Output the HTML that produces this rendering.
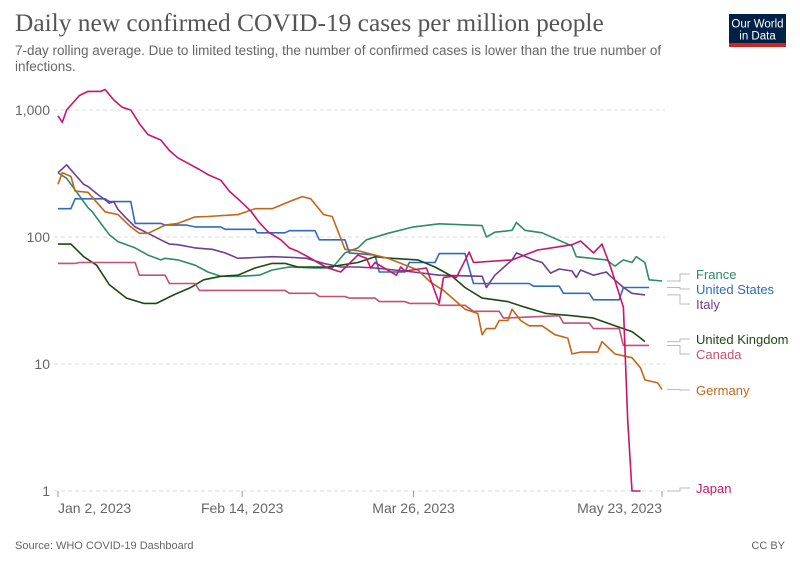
<!DOCTYPE html>
<html><head><meta charset="utf-8">
<style>
body{margin:0;background:#fff;width:800px;height:564px;overflow:hidden;font-family:"Liberation Sans",sans-serif}
svg{display:block}
</style></head><body>
<svg id="chart" width="800" height="564" xmlns="http://www.w3.org/2000/svg">
<text x="15" y="31" font-family="Liberation Serif,serif" font-size="25.4" fill="#555">Daily new confirmed COVID-19 cases per million people</text>
<text x="15" y="55" font-size="13.5" fill="#666">7-day rolling average. Due to limited testing, the number of confirmed cases is lower than the true number of</text>
<text x="15" y="71" font-size="13.5" fill="#666">infections.</text>
<g>
<rect x="729" y="14" width="57" height="33" fill="#002147"/>
<rect x="729" y="43" width="57" height="4" fill="#ce261e"/>
<text x="757.5" y="27.5" font-size="11.5" fill="#fff" text-anchor="middle">Our World</text>
<text x="757.5" y="39.5" font-size="11.5" fill="#fff" text-anchor="middle">in Data</text>
</g>
<g id="grid"></g><g id="series"></g><g id="labels"></g>
<text x="15" y="549" font-size="11" fill="#666">Source: WHO COVID-19 Dashboard</text>
<text x="785" y="549" font-size="11" fill="#666" text-anchor="end">CC BY</text>
</svg>
<script>
const yTicks=[1,10,100,1000];
const yTickLabels=["1","10","100","1,000"];
const xTickDays=[0,43,83,141];
const xTickLabels=["Jan 2, 2023","Feb 14, 2023","Mar 26, 2023","May 23, 2023"];
const countries=["France","United States","Italy","United Kingdom","Canada","Germany","Japan"];
const colors=["#2e8b66","#2f6bbf","#6d3e91","#1c4a12","#c45072","#c4661a","#c8156b"];
const labelY=[274,289,304,339,354,390,488];
const franceDays=[0,2,4,7,8,10,12,14,18,21,24,25,28,32,35,38,42,47,50,54,60,64,67,70,72,77,83,89,99,100,102,106,107,109,113,120,121,128,130,132,134,135,137,138,141];
const franceVals=[320,290,235,170,158,128,104,92,82,72,66,68,66,60,53,49,49,50,55,58,57,57,75,82,95,107,120,127,123,100,109,113,130,113,108,85,70,66,59,66,63,70,63,46,45];
const usDays=[0,3,4,11,12,17,18,24,25,30,32,38,39,46,46.5,53,54,60,61,67,68,74,75,81,82,88,89,95,97,110,111,117,118,124,125,131,132,138];
const usVals=[167,167,200,200,190,190,128,128,124,124,120,120,115,115,108,108,112,112,95,95,75,72,53,53,63,63,74,74,43,43,41,41,36,36,32,32,40,40];
const italyDays=[0,2,4,6,7,9,12,13,14,16,18,21,24,26,28,32,36,39,42,46,50,55,58,62,66,70,74,83,89,99,100,102,106,107,111,113,115,117,120,121,122,125,128,129,132,134,137];
const italyVals=[320,370,310,260,250,220,185,190,165,140,120,107,95,88,87,82,80,75,68,69,70,69,68,62,58,58,57,53,50,49,40,50,66,75,66,63,52,56,54,48,55,50,53,49,40,36,35];
const ukDays=[0,3,6,9,12,16,20,23,27,31,34,38,42,46,50,53,56,63,66,70,74,78,84,88,92,95,99,105,109,114,120,125,130,134,136,137];
const ukVals=[88,88,70,60,42,33,30,30,35,40,46,49,50,57,62,62,58,58,60,63,70,68,66,58,49,40,33,31,28,25,24,23,20,18,16,15];
const canadaDays=[0,4,5,18,19,25,26,32,33,53,54,60,61,67,68,74,75,81,82,88,89,95,97,103,104,117,118,124,125,131,132,138];
const canadaVals=[62,62,63,63,50,50,43,43,38,38,36,36,34,34,33,33,31,31,30,30,29,29,26,26,23,24,21,21,19,19,14,14];
const germanyDays=[0,1,3,4,7,11,14,17,19,21,25,28,32,35,42,46,50,54,57,59,62,64,67,70,74,77,84,87,90,95,98,99,100,102,103,105,106,108,110,113,116,119,120,122,126,127,130,133,134,136,137,140,141];
const germanyVals=[260,320,300,230,225,158,150,120,107,107,124,128,144,145,150,167,167,190,208,200,150,145,80,78,72,68,55,44,38,27,25,17,19,19,22,22,27,22,20,20,17,16,12,12.4,12.4,15,12,11.4,11.2,9.3,7.5,7.1,6.3];
const japanDays=[0,1,2,5,7,10,11,13,15,17,19,21,24,26,28,31,33,35,38,40,42,45,47,49,52,54,56,59,61,63,66,70,72,73,74,79,80,81,86,89,90,92,93,96,97,106,112,120,122,125,127,129,132,133,134,136];
const japanVals=[900,800,1000,1300,1400,1400,1450,1200,1050,1000,780,640,580,480,420,370,340,310,280,230,200,160,130,110,95,82,77,68,62,57,53,72,68,57,63,50,58,54,57,30,48,49,48,76,63,66,79,87,93,75,88,58,28,3.6,1,1];
const seriesDays=[franceDays,usDays,italyDays,ukDays,canadaDays,germanyDays,japanDays];
const seriesVals=[franceVals,usVals,italyVals,ukVals,canadaVals,germanyVals,japanVals];

const X0=58,X1=662,D1=141,Y1=491,PX_DEC=127;
const xs=d=>X0+(X1-X0)*d/D1;
const ys=v=>Y1-Math.log10(v)*PX_DEC;
const NS="http://www.w3.org/2000/svg";
function mk(tag,attrs,parent){const e=document.createElementNS(NS,tag);for(const k in attrs)e.setAttribute(k,attrs[k]);parent.appendChild(e);return e;}
const grid=document.getElementById('grid');
yTicks.forEach((t,i)=>{
  const l=mk('line',{x1:54,x2:665,y1:ys(t),y2:ys(t),stroke:'#ddd','stroke-dasharray':'4,3'},grid);
  
  
  const tx=mk('text',{x:50,y:ys(t)+5,'text-anchor':'end','font-size':14,fill:'#666'},grid);
  tx.textContent=yTickLabels[i];
  
  
});
xTickDays.forEach((d,i)=>{
  const l=mk('line',{x1:xs(d),x2:xs(d),y1:491,y2:497,stroke:'#999'},grid);
  
  
  const anchor=i==0?'start':(i==xTickDays.length-1?'end':'middle');
  const tx=mk('text',{x:xs(d),y:513,'text-anchor':anchor,'font-size':14,fill:'#666'},grid);
  tx.textContent=xTickLabels[i];
  
  
});
const sg=document.getElementById('series'),lg=document.getElementById('labels');
countries.forEach((c,i)=>{
  const dd=seriesDays[i],vv=seriesVals[i];
  const pts=dd.map((d,j)=>xs(d).toFixed(1)+','+ys(vv[j]).toFixed(1)).join(' ');
  const p=mk('polyline',{points:pts,fill:'none',stroke:colors[i],'stroke-width':1.6,'stroke-linejoin':'round'},sg);
  
  
  const ey=ys(vv[vv.length-1]);
  const con=mk('polyline',{points:`667,${ey} 680,${ey} 680,${labelY[i]} 690,${labelY[i]}`,fill:'none',stroke:'#bbb','stroke-width':1},lg);
  
  
  const t=mk('text',{x:696,y:labelY[i]+5,'font-size':13,fill:colors[i]},lg);
  t.textContent=c;
  
  
});
</script>
</body></html>
